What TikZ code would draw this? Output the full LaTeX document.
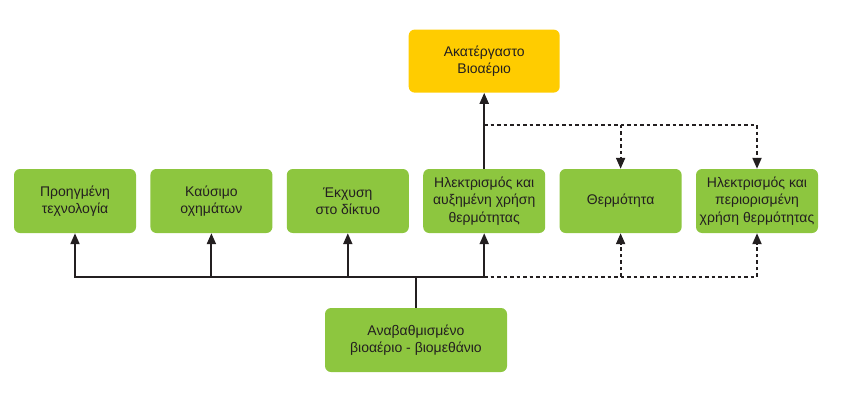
\documentclass[tikz,border=0pt]{standalone}
\usepackage{fontspec}
\setmainfont{Liberation Sans}
\usetikzlibrary{arrows.meta,positioning}
\definecolor{biogreen}{RGB}{141,198,63}
\definecolor{rawyellow}{RGB}{255,204,0}
\definecolor{inktext}{RGB}{35,31,32}
\tikzset{usebox/.style={fill=biogreen,rounded corners=6pt,minimum width=122pt,minimum height=64pt,
 align=center,text=inktext,font=\fontsize{14}{17.5}\selectfont},
 flow/.style={-{Triangle[length=11pt,width=9pt]},line width=2pt,draw=inktext},
 option/.style={flow,dash pattern=on 3.5pt off 3pt}}

\begin{document}
\begin{tikzpicture}[x=1pt,y=1pt]
\useasboundingbox (0,0) rectangle (842,400);
\node[usebox] (tech) at (75,199) {Προηγμένη\\τεχνολογία};
\node[usebox,right=14pt of tech] (fuel) {Καύσιμο\\οχημάτων};
\node[usebox,right=14pt of fuel] (grid) {Έκχυση\\στο δίκτυο};
\node[usebox,right=14pt of grid] (chp) {Ηλεκτρισμός και\\αυξημένη χρήση\\θερμότητας};
\node[usebox,right=14pt of chp] (heat) {Θερμότητα};
\node[usebox,right=14pt of heat] (elec) {Ηλεκτρισμός και\\περιορισμένη\\χρήση θερμότητας};
\node[usebox,fill=rawyellow,minimum width=151pt,minimum height=63pt,above=76pt of chp] (raw) {Ακατέργαστο\\Βιοαέριο};
\node[usebox,minimum width=182pt] (upgraded) at (416,60) {Αναβαθμισμένο\\βιοαέριο - βιομεθάνιο};
\coordinate (bus) at (416,123);
\coordinate (split) at ([yshift=44pt]chp.north);
% solid tree below the row
\draw[line width=2pt,draw=inktext] (upgraded) -- (bus);
\draw[flow] (bus) -| (tech);
\draw[flow] (bus) -| (fuel);
\draw[flow] (bus) -| (grid);
\draw[flow] (bus) -| (chp);
\draw[flow] (chp) -- (raw);
% dashed branches
\draw[option] (chp |- bus) -| (heat);
\draw[option] (chp |- bus) -| (elec);
\draw[option] (split) -| (heat);
\draw[option] (split) -| (elec);
\end{tikzpicture}
\end{document}
